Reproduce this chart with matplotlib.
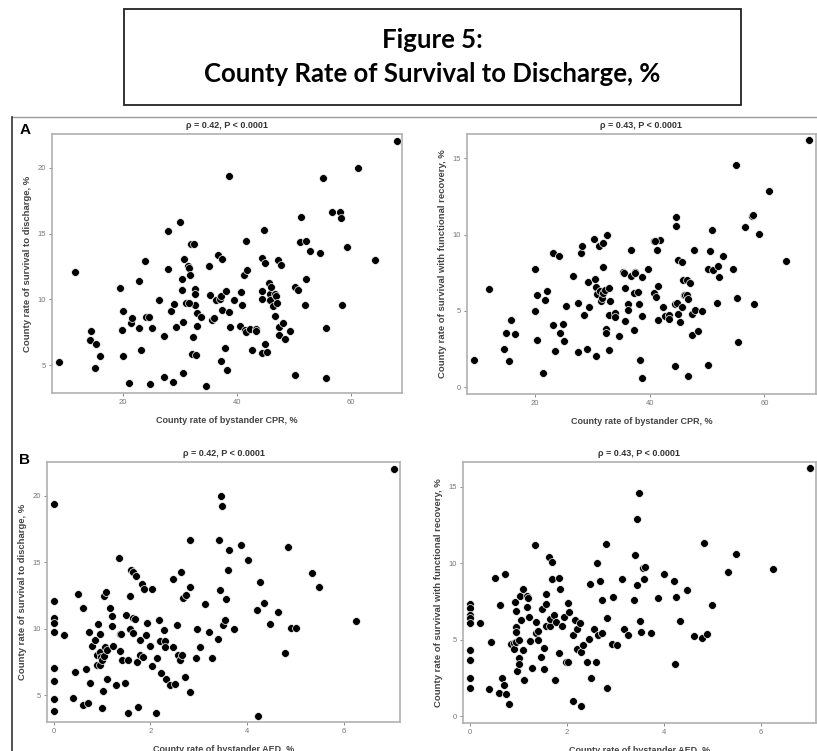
"""
Figure 5: county rate of survival to discharge vs bystander CPR / AED rates.
Four scatter panels (A: CPR, B: AED) read off the published figure.
"""

import matplotlib.pyplot as plt
from matplotlib.patches import Rectangle
from matplotlib.lines import Line2D

W, H = 817, 751

# ----------------------------------------------------------------------
# Data
# ----------------------------------------------------------------------
# Panel A, left: bystander CPR rate vs survival to discharge
cpr_a1 = [8.8, 11.6, 14.2, 14.5, 15.4, 15.1, 16.1, 19.6, 19.8, 20.0, 20.1, 21.1,
          21.4, 21.6, 22.9, 22.9, 23.2, 23.9, 24.1, 24.6, 25.1, 24.8, 26.4, 27.2,
          27.3, 27.9, 28.0, 28.4, 28.9, 29.0, 29.3, 30.1, 30.4, 30.4, 30.5, 30.6,
          30.8, 31.1, 31.5, 31.6, 31.8, 31.9, 32.5, 32.3, 32.2, 32.6, 32.7, 32.7,
          32.8, 33.0, 33.1, 33.8, 31.6, 34.7, 35.2, 35.4, 35.6, 36.1, 36.3, 36.7,
          37.0, 37.2, 37.2, 37.4, 37.4, 38.1, 38.0, 38.3, 38.6, 38.6, 38.8, 39.6,
          40.6, 40.8, 41.0, 41.3, 41.5, 41.6, 41.7, 41.8, 42.4, 42.7, 43.3, 43.4,
          44.4, 44.4, 44.5, 44.5, 44.8, 45.0, 45.0, 45.3, 45.7, 45.8, 45.8, 46.1,
          46.3, 46.8, 46.9, 47.0, 46.8, 47.3, 47.5, 47.5, 47.8, 48.2, 48.5, 49.3,
          50.3, 50.3, 50.8, 51.1, 51.2, 51.9, 52.1, 52.2, 52.9, 54.7, 55.1, 55.6,
          55.7, 56.8, 58.1, 58.3, 58.5, 59.3, 61.2, 64.3, 68.1]
surv_a1 = [5.25, 12.05, 6.95, 7.63, 6.6, 4.77, 5.7, 10.83, 7.65, 9.14, 5.73, 3.66,
           8.2, 8.6, 7.85, 11.4, 6.2, 12.9, 8.7, 8.64, 7.8, 3.61, 9.97, 7.2,
           4.09, 12.27, 15.18, 9.09, 3.76, 9.67, 7.93, 15.91, 11.52, 10.73, 4.42, 8.26,
           13.08, 9.72, 12.5, 12.37, 11.89, 14.19, 14.19, 7.15, 5.86, 10.78, 10.4, 9.57,
           5.78, 8.99, 8.0, 8.64, 9.72, 3.43, 12.5, 10.33, 8.41, 8.59, 9.95, 13.36,
           10.03, 10.28, 5.3, 13.08, 9.22, 10.66, 6.34, 4.67, 19.39, 9.07, 7.93, 9.97,
           8.0, 10.58, 9.55, 11.84, 7.7, 14.42, 7.53, 12.25, 7.75, 6.2, 7.75, 7.58,
           5.91, 10.03, 10.66, 13.16, 15.28, 12.73, 6.62, 6.01, 11.26, 10.4, 9.95, 10.98,
           9.5, 10.38, 10.25, 9.72, 8.71, 13.01, 7.9, 7.27, 12.58, 8.21, 6.97, 7.6,
           10.91, 4.24, 10.71, 14.32, 16.29, 9.55, 14.42, 11.52, 13.71, 13.49, 19.22, 7.8,
           4.01, 16.64, 16.64, 16.16, 9.57, 13.99, 19.95, 12.98, 22.05]

# Panel A, right: bystander CPR rate vs survival with functional recovery
cpr_a2 = [9.3, 12.0, 14.6, 14.9, 15.5, 15.8, 16.5, 20.0, 20.0, 20.3, 20.4, 21.3,
          21.7, 22.0, 23.1, 23.1, 23.4, 24.2, 24.3, 24.8, 25.0, 25.4, 26.6, 27.4,
          27.5, 28.0, 28.2, 28.6, 29.0, 29.2, 29.4, 30.2, 30.5, 30.6, 30.6, 30.8,
          31.1, 31.3, 31.4, 31.6, 31.8, 31.8, 31.9, 32.1, 32.3, 32.3, 32.6, 32.8,
          32.8, 32.8, 33.1, 33.9, 33.9, 34.7, 35.3, 35.5, 35.7, 35.7, 36.2, 36.2,
          36.7, 36.8, 37.2, 37.3, 37.4, 37.5, 38.0, 38.1, 38.3, 38.6, 38.6, 38.7,
          39.6, 40.7, 40.8, 41.0, 41.2, 41.4, 41.4, 41.7, 40.9, 42.3, 42.7, 43.3,
          43.4, 44.4, 44.5, 44.6, 44.4, 44.7, 44.9, 44.9, 45.2, 45.6, 45.7, 45.8,
          45.9, 46.2, 46.5, 46.5, 46.7, 46.7, 47.1, 47.3, 47.4, 47.7, 47.9, 48.4,
          49.1, 50.2, 50.2, 50.5, 50.9, 51.0, 51.7, 51.9, 52.1, 52.7, 54.5, 55.0,
          55.3, 55.4, 56.6, 57.8, 58.0, 58.2, 59.0, 60.8, 63.8, 67.7]
func_a2 = [1.82, 6.44, 2.48, 3.53, 1.73, 4.38, 3.5, 7.73, 4.97, 6.07, 3.09, 0.96,
           5.74, 6.29, 4.07, 8.8, 2.39, 8.58, 3.55, 4.18, 3.04, 5.3, 7.29, 5.54,
           2.32, 8.83, 9.29, 4.71, 2.5, 6.9, 5.26, 9.75, 7.12, 6.59, 2.06, 6.13,
           9.24, 6.31, 5.67, 5.87, 9.44, 7.86, 6.2, 6.37, 3.85, 3.55, 9.96, 6.48,
           4.75, 2.45, 5.67, 4.88, 4.6, 3.35, 7.58, 7.47, 6.48, 4.34, 5.43, 5.06,
           9.0, 7.27, 3.75, 6.2, 7.58, 7.47, 6.26, 5.43, 1.82, 7.25, 0.64, 4.69,
           7.77, 6.15, 9.6, 5.91, 8.98, 6.61, 4.38, 9.68, 9.59, 5.26, 4.64, 4.71,
           4.47, 5.43, 10.56, 11.19, 1.42, 5.5, 8.34, 4.82, 4.25, 8.23, 5.28, 7.05,
           6.07, 6.07, 6.02, 7.05, 5.76, 0.77, 6.83, 4.82, 3.42, 9.0, 5.06, 3.66,
           4.97, 7.77, 1.49, 8.96, 10.31, 7.69, 5.54, 7.95, 7.25, 8.61, 7.77, 14.56,
           5.83, 2.94, 10.53, 11.23, 11.26, 5.43, 10.05, 12.88, 8.28, 16.2]

# Panel B, left: bystander AED rate vs survival to discharge
aed_b1 = [0, 0, 0, 0, 0, 0, 0, 0, 0, 0.21, 0.44, 0.39, 0.5, 0.61, 0.61, 0.67,
          0.71, 0.73, 0.74, 0.8, 0.86, 0.89, 0.9, 0.92, 0.95, 0.96, 0.96, 0.98,
          1.0, 0.99, 1.02, 1.03, 1.05, 1.03, 1.09, 1.1, 1.11, 1.16, 1.2, 1.21,
          1.23, 1.28, 1.34, 1.37, 1.36, 1.4, 1.42, 1.47, 1.49, 1.54, 1.54, 1.57,
          1.57, 1.6, 1.64, 1.63, 1.64, 1.69, 1.7, 1.73, 1.75, 1.78, 1.78, 1.84,
          1.83, 1.86, 1.91, 1.93, 2.0, 2.04, 2.04, 2.12, 2.13, 2.17, 2.22, 2.2,
          2.29, 2.28, 2.3, 2.32, 2.41, 2.46, 2.47, 2.5, 2.55, 2.57, 2.62, 2.64,
          2.65, 2.67, 2.73, 2.72, 2.81, 2.82, 2.81, 2.94, 2.96, 3.02, 3.12, 3.2,
          3.28, 3.39, 3.41, 3.44, 3.46, 3.48, 3.5, 3.55, 3.57, 3.61, 3.63, 3.73,
          3.88, 4.01, 4.21, 4.23, 4.26, 4.35, 4.48, 4.63, 4.79, 4.85, 4.9, 5.0,
          5.33, 5.49, 6.26, 7.03]
surv_b1 = [19.37, 12.05, 10.77, 10.39, 9.74, 7.01, 6.03, 4.68, 3.82, 9.49, 6.7, 4.78,
           12.6, 11.52, 4.25, 6.96, 4.42, 9.72, 5.93, 8.71, 9.11, 7.99, 7.28, 10.32,
           8.21, 9.62, 7.23, 7.86, 7.66, 4.0, 5.3, 12.48, 8.61, 7.96, 12.73, 8.41,
           6.23, 11.52, 10.92, 10.17, 8.66, 5.75, 15.31, 9.62, 8.29, 9.57, 7.61, 5.9,
           11.0, 7.61, 3.62, 12.45, 9.97, 14.41, 14.26, 9.67, 10.82, 10.69, 13.98, 7.51,
           4.1, 9.14, 8.01, 7.89, 13.35, 12.95, 9.54, 10.42, 8.71, 7.18, 13.0, 3.67,
           7.81, 10.64, 6.66, 9.04, 9.04, 9.92, 8.64, 6.23, 5.73, 8.64, 13.73, 5.8,
           10.27, 8.04, 7.66, 14.23, 8.01, 12.3, 12.5, 6.36, 16.64, 13.1, 5.25, 7.76,
           9.99, 8.64, 11.87, 9.74, 7.76, 9.21, 16.64, 12.93, 19.95, 19.22, 10.27, 10.67,
           12.25, 14.41, 15.91, 9.99, 16.29, 15.18, 11.42, 3.45, 13.48, 11.9, 10.37, 11.27,
           8.19, 16.14, 10.07, 10.02, 14.21, 13.15, 10.59, 22.0]

# Panel B, right: bystander AED rate vs survival with functional recovery
aed_b2 = [0, 0, 0, 0, 0, 0, 0, 0, 0, 0.21, 0.39, 0.44, 0.51, 0.6, 0.62, 0.66,
          0.7, 0.73, 0.75, 0.8, 0.86, 0.91, 0.92, 0.93, 0.95, 0.95, 0.96, 0.96,
          0.98, 1.02, 1.01, 1.02, 1.03, 1.05, 1.09, 1.1, 1.12, 1.17, 1.19, 1.21,
          1.23, 1.24, 1.28, 1.35, 1.36, 1.36, 1.41, 1.41, 1.46, 1.48, 1.54, 1.54,
          1.57, 1.58, 1.58, 1.63, 1.65, 1.65, 1.69, 1.69, 1.74, 1.76, 1.78, 1.83,
          1.83, 1.86, 1.91, 1.94, 1.98, 2.02, 2.03, 2.05, 2.13, 2.13, 2.16, 2.21,
          2.22, 2.28, 2.3, 2.3, 2.33, 2.42, 2.46, 2.48, 2.5, 2.56, 2.61, 2.63,
          2.65, 2.68, 2.72, 2.72, 2.81, 2.82, 2.82, 2.94, 2.96, 3.03, 3.13, 3.19,
          3.27, 3.38, 3.4, 3.45, 3.45, 3.48, 3.5, 3.54, 3.57, 3.62, 3.6, 3.73,
          3.88, 4.01, 4.22, 4.23, 4.26, 4.34, 4.48, 4.63, 4.79, 4.84, 4.89, 5.0,
          5.32, 5.48, 6.25, 7.02]
func_b2 = [7.31, 7.05, 6.62, 6.44, 6.07, 4.3, 3.69, 2.51, 1.86, 6.09, 1.77, 4.83,
           9.02, 1.51, 7.27, 2.51, 2.07, 9.28, 1.46, 0.79, 4.74, 4.78, 4.39, 7.47,
           6.9, 5.81, 5.52, 4.87, 2.97, 4.98, 3.78, 3.43, 7.88, 6.29, 4.34, 8.34,
           2.38, 7.16, 7.82, 7.75, 6.51, 4.91, 3.12, 11.16, 6.16, 5.44, 5.59, 4.98,
           3.89, 7.03, 4.48, 3.06, 7.31, 7.97, 5.87, 10.37, 5.9, 6.38, 10.07, 8.95,
           6.64, 2.34, 6.16, 9.0, 4.1, 8.3, 5.92, 6.51, 3.56, 7.42, 3.56, 6.81,
           5.31, 0.98, 6.29, 5.7, 4.39, 6.09, 4.17, 0.66, 4.63, 3.54, 5.07, 8.65,
           2.47, 5.72, 3.54, 9.98, 5.28, 8.8, 5.41, 7.6, 11.24, 6.4, 1.83, 4.74,
           7.79, 4.63, 8.97, 5.7, 5.28, 7.6, 10.55, 12.88, 8.6, 14.56, 6.24, 5.5,
           9.69, 9.74, 8.95, 5.46, 7.71, 9.3, 8.8, 3.38, 7.79, 6.2, 8.25, 5.26,
           5.09, 11.29, 5.39, 7.25, 9.43, 10.57, 9.61, 16.2]

STATS = ["\u03c1 = 0.42, P < 0.0001", "\u03c1 = 0.43, P < 0.0001"]
YLAB_SURV = "County rate of survival to discharge, %"
YLAB_FUNC = "County rate of survival with functional recovery, %"
XLAB_CPR = "County rate of bystander CPR, %"
XLAB_AED = "County rate of bystander AED, %"

plt.rcParams["font.family"] = ["Liberation Sans", "DejaVu Sans"]


def px_rect(l, t, r, b):
    """Pixel box (left, top, right, bottom) -> figure fraction rect."""
    return [l / W, 1 - b / H, (r - l) / W, (b - t) / H]


fig = plt.figure(figsize=(W / 100, H / 100), dpi=100)

# ----------------------------------------------------------------------
# Title box
# ----------------------------------------------------------------------
fig.patches.append(Rectangle((124 / W, 1 - 105 / H), (741 - 124) / W, (105 - 9) / H,
                             transform=fig.transFigure, fill=False,
                             edgecolor="#222222", linewidth=1.3))
fig.text(432 / W, 1 - 40 / H, "Figure 5:", ha="center", va="center",
         fontsize=18.5, fontweight="bold", family=["Lato", "DejaVu Sans"])
fig.text(432 / W, 1 - 74 / H, "County Rate of Survival to Discharge, %",
         ha="center", va="center", fontsize=18.5, fontweight="bold",
         family=["Lato", "DejaVu Sans"])

# frame of the pasted figure
fig.add_artist(Line2D([12 / W, 1], [1 - 117 / H, 1 - 117 / H],
                      transform=fig.transFigure, color="#9a9a9a", linewidth=1))
fig.add_artist(Line2D([12 / W, 12 / W], [0, 1 - 117 / H],
                      transform=fig.transFigure, color="#333333", linewidth=1.2))

# ----------------------------------------------------------------------
# Scatter panels
# ----------------------------------------------------------------------
panels = [
    (px_rect(52, 134, 402, 393), cpr_a1, surv_a1, STATS[0], YLAB_SURV, XLAB_CPR,
     (7.6, 69), (2.9, 22.55), [20, 40, 60], [5, 10, 15, 20]),
    (px_rect(467, 134, 816, 394), cpr_a2, func_a2, STATS[1], YLAB_FUNC, XLAB_CPR,
     (8.1, 69), (-0.44, 16.6), [20, 40, 60], [0, 5, 10, 15]),
    (px_rect(47, 462, 400, 722), aed_b1, surv_b1, STATS[0], YLAB_SURV, XLAB_AED,
     (-0.14, 7.16), (2.97, 22.53), [0, 2, 4, 6], [5, 10, 15, 20]),
    (px_rect(463, 462, 816, 723), aed_b2, func_b2, STATS[1], YLAB_FUNC, XLAB_AED,
     (-0.14, 7.14), (-0.44, 16.6), [0, 2, 4, 6], [0, 5, 10, 15]),
]

for rect, xs, ys, stat, ylab, xlab, xlim, ylim, xt, yt in panels:
    ax = fig.add_axes(rect)
    ax.scatter(xs, ys, s=32, color="black", edgecolors="white", linewidths=0.5,
               zorder=3)
    ax.set_xlim(*xlim)
    ax.set_ylim(*ylim)
    ax.set_xticks(xt)
    ax.set_yticks(yt)
    ax.tick_params(labelsize=5.5, colors="#777777", length=2.5, width=0.6,
                   pad=2)
    for sp in ax.spines.values():
        sp.set_color("#b0b0b0")
        sp.set_linewidth(1.2)
    ax.set_title(stat, fontsize=6.5, fontweight="bold", color="#333333", pad=4)
    ax.set_ylabel(ylab, fontsize=6.8, fontweight="bold", color="#444444",
                  labelpad=4)
    ax.set_xlabel(xlab, fontsize=6.5, fontweight="bold", color="#444444",
                  labelpad=7)

fig.text(25 / W, 1 - 130 / H, "A", fontsize=11, fontweight="bold",
         ha="center", va="center")
fig.text(25 / W, 1 - 460 / H, "B", fontsize=11, fontweight="bold",
         ha="center", va="center")

fig.savefig("out.png", dpi=100)
